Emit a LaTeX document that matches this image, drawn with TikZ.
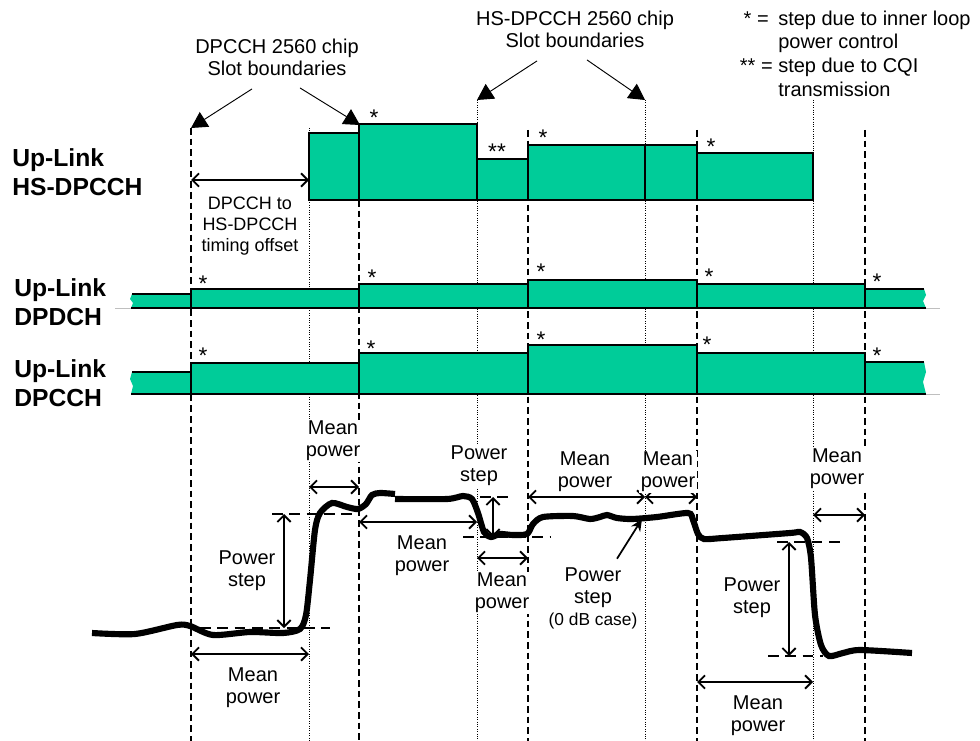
\documentclass[tikz,border=0pt]{standalone}
\usepackage{fontspec}
\setmainfont{Liberation Sans}
\usetikzlibrary{arrows.meta,calc}
\definecolor{hsgreen}{RGB}{0,204,153}

\begin{document}
\begin{tikzpicture}[
  x=0.75pt, y=-0.75pt,
  font=\fontsize{15}{16.5}\selectfont,
  lbl/.style={align=center, inner sep=1pt, fill=white},
  small/.style={lbl, font=\fontsize{13.5}{15.8}\selectfont},
  chan/.style={align=left, anchor=west, inner sep=0pt,
    font=\bfseries\fontsize{18.5}{22}\selectfont},
  legend/.style={inner sep=0pt},
  star/.style={inner sep=0pt, anchor=north, font=\fontsize{17}{17}\selectfont},
  slotbox/.style={draw=black, line width=1.2pt, fill=hsgreen},
  rowline/.style={draw=black, line width=1.2pt},
  dpslot/.style={line width=1.2pt, dash pattern=on 5pt off 3pt},
  hsslot/.style={line width=0.7pt, dash pattern=on 0.8pt off 1pt},
  slotarrow/.style={-{Triangle[length=12pt,width=13pt]}, line width=0.7pt},
  dimarrow/.style={{Straight Barb[length=5pt,width=10pt]}-{Straight Barb[length=5pt,width=10pt]},
    line width=1.4pt},
  pointer/.style={-{Stealth[length=9pt,width=8pt]}, line width=1.3pt},
  refline/.style={line width=1pt, dash pattern=on 8pt off 5pt},
  powercurve/.style={line width=4.6pt, smooth, tension=0.45}
]
\useasboundingbox (0,0) rectangle (980,741);

% slot boundaries
\coordinate (dpa) at (191,128);
\coordinate (dpb) at (359,200);
\coordinate (dpc) at (528,130);
\coordinate (dpd) at (697,130);
\coordinate (dpe) at (865,130);
\coordinate (hsa) at (309,128);
\coordinate (hsb) at (477,100);
\coordinate (hsc) at (645,100);
\coordinate (hsd) at (813,100);
\coordinate (floor) at (0,741);

\draw[dpslot] (dpa) -- (dpa |- floor);
\draw[dpslot] (dpb) -- (dpb |- floor);
\draw[dpslot] (dpc) -- (dpc |- floor);
\draw[dpslot] (dpd) -- (dpd |- floor);
\draw[dpslot] (dpe) -- (dpe |- floor);
\draw[hsslot] (hsa) -- (hsa |- floor);
\draw[hsslot] (hsb) -- (hsb |- floor);
\draw[hsslot] (hsc) -- (hsc |- floor);
\draw[hsslot] (hsd) -- (hsd |- floor);

% Up-Link HS-DPCCH
\draw[slotbox] (309,133) rectangle (359,200);
\draw[slotbox] (359,124) rectangle (477,200);
\draw[slotbox] (477,159) rectangle (528,200);
\draw[slotbox] (528,145) rectangle (645,200);
\draw[slotbox] (645,145) rectangle (697,200);
\draw[slotbox] (697,153) rectangle (813,200);

% Up-Link DPDCH
\draw[black!25, line width=0.6pt] (115,308) -- (940,308);
\fill[hsgreen] (191,294) -- (132,294) -- (130,299) -- (133,303) -- (131,308) -- (191,308) -- cycle;
\fill[hsgreen] (865,289) -- (924,289) -- (926,295) -- (923,301) -- (926,308) -- (865,308) -- cycle;
\draw[rowline] (132,294) -- (191,294) (131,308) -- (191,308);
\draw[rowline] (865,289) -- (924,289) (865,308) -- (926,308);
\draw[slotbox] (191,289) rectangle (359,308);
\draw[slotbox] (359,284) rectangle (528,308);
\draw[slotbox] (528,280) rectangle (697,308);
\draw[slotbox] (697,284) rectangle (865,308);

% Up-Link DPCCH
\draw[black!25, line width=0.6pt] (925,394) -- (940,394);
\fill[hsgreen] (191,372) -- (132,372) -- (130,379) -- (133,386) -- (131,394) -- (191,394) -- cycle;
\fill[hsgreen] (865,362) -- (924,362) -- (926,372) -- (923,382) -- (926,394) -- (865,394) -- cycle;
\draw[rowline] (132,372) -- (191,372) (131,394) -- (191,394);
\draw[rowline] (865,362) -- (924,362) (865,394) -- (926,394);
\draw[slotbox] (191,363) rectangle (359,394);
\draw[slotbox] (359,353) rectangle (528,394);
\draw[slotbox] (528,345) rectangle (697,394);
\draw[slotbox] (697,353) rectangle (865,394);

% steps
\node[star] (hsstar1) at (374,110) {*};
\node[star] (hsstar2) at (497,144) {**};
\node[star] (hsstar3) at (543,130) {*};
\node[star] (hsstar4) at (711,139) {*};
\node[star] (dpdstar1) at (203,276) {*};
\node[star] (dpdstar2) at (372,270) {*};
\node[star] (dpdstar3) at (541,264) {*};
\node[star] (dpdstar4) at (709,269) {*};
\node[star] (dpdstar5) at (877,274) {*};
\node[star] (dpcstar1) at (203,348) {*};
\node[star] (dpcstar2) at (371,341) {*};
\node[star] (dpcstar3) at (541,332) {*};
\node[star] (dpcstar4) at (707,337) {*};
\node[star] (dpcstar5) at (877,348) {*};

% channel names
\node[chan] (hsname) at (12,172) {Up-Link\\HS-DPCCH};
\node[chan] (dpdname) at (14,302) {Up-Link\\DPDCH};
\node[chan] (dpcname) at (14,383) {Up-Link\\DPCCH};

% slot boundary titles
\node[lbl] (dptitle) at (277,57) {DPCCH 2560 chip\\Slot boundaries};
\node[lbl] (hstitle) at (575,29) {HS-DPCCH 2560 chip\\Slot boundaries};
\draw[slotarrow] ($(dptitle.south)+(-25,12)$) -- (dpa);
\draw[slotarrow] ($(dptitle.south)+(23,11)$) -- (360,125);
\draw[slotarrow] ($(hstitle.south)+(-38,12)$) -- (hsb);
\draw[slotarrow] ($(hstitle.south)+(12,11)$) -- (hsc);

% legend
\node[legend, anchor=base east] (mark1) at (769,26) {* =};
\node[legend, anchor=base west] (leg1) at (778,26) {step due to inner loop};
\node[legend, anchor=base west] (leg2) at (778,49) {power control};
\node[legend, anchor=base east] (mark2) at (773,73) {** =};
\node[legend, anchor=base west] (leg3) at (778,73) {step due to CQI};
\node[legend, anchor=base west] (leg4) at (778,97) {transmission};

% timing offset
\draw[dimarrow] (dpa |- 0,180) -- (hsa |- 0,180);
\node[small] (offset) at (250,226) {DPCCH to\\HS-DPCCH\\timing offset};

% power curve
\draw[powercurve] plot coordinates {(92,633) (135,634) (177,625) (190,626) (213,635)
  (250,632) (283,633) (300,629) (306,615) (310,580) (315,530) (320,513) (332,503)
  (347,507) (358,509) (366,504) (372,495) (380,493) (395,494)};
\draw[powercurve] plot coordinates {(395,499) (447,499) (463,496) (472,499) (478,513)
  (484,532) (491,537) (500,534) (513,535) (527,534) (533,524) (543,517) (573,516)
  (590,519) (600,517) (607,515) (617,518) (632,519) (657,517) (688,513) (693,520)
  (698,534) (704,539) (723,538) (790,533) (800,532) (807,538) (811,558) (815,615)
  (821,645) (829,656) (843,653) (860,650) (912,653)};

% power steps
\draw[refline] (200,628) -- (330,628);
\draw[refline] (272,514) -- (360,514);
\draw[refline] (480,497) -- (508,497);
\draw[refline] (463,537) -- (550,537);
\draw[refline] (777,542) -- (842,542);
\draw[refline] (768,656) -- (823,656);
\coordinate (stepatop) at (284,514);
\coordinate (stepabot) at (284,628);
\coordinate (stepbtop) at (493,497);
\coordinate (stepbbot) at (493,537);
\coordinate (stepctop) at (789,542);
\coordinate (stepcbot) at (789,656);
\draw[dimarrow] (stepatop) -- (stepabot);
\draw[dimarrow] (stepbtop) -- (stepbbot);
\draw[dimarrow] (stepctop) -- (stepcbot);
\node[lbl, fill=none] (stepa) at (247,571) {Power\\step};
\node[lbl] (stepb) at (479,466) {Power\\step};
\node[lbl, fill=none] (stepc) at (752,598) {Power\\step};
\node[lbl, fill=none] (zerodb) at (593,598) {Power\\step\\{\fontsize{13}{15}\selectfont(0 dB case)}};
\coordinate (zerotip) at (642,519);
\draw[pointer] ($(zerodb.north)+(24,-7)$) -- (zerotip);

% mean power
\draw[dimarrow] (dpa |- 0,654) -- (hsa |- 0,654);
\draw[dimarrow] (hsa |- 0,487) -- (dpb |- 0,487);
\draw[dimarrow] (dpb |- 0,522) -- (hsb |- 0,522);
\draw[dimarrow] (hsb |- 0,558) -- (dpc |- 0,558);
\draw[dimarrow] (dpc |- 0,497) -- (hsc |- 0,497);
\draw[dimarrow] (hsc |- 0,497) -- (dpd |- 0,497);
\draw[dimarrow] (dpd |- 0,682) -- (hsd |- 0,682);
\draw[dimarrow] (hsd |- 0,515) -- (dpe |- 0,515);
\node[lbl] (mean1) at (253,688) {Mean\\power};
\node[lbl] (mean2) at (333,441) {Mean\\power};
\node[lbl] (mean3) at (422,556) {Mean\\power};
\node[lbl] (mean4) at (502,593) {Mean\\power};
\node[lbl] (mean5) at (585,472) {Mean\\power};
\node[lbl] (mean6) at (668,472) {Mean\\power};
\node[lbl] (mean7) at (758,716) {Mean\\power};
\node[lbl] (mean8) at (837,469) {Mean\\power};

\end{tikzpicture}
\end{document}
